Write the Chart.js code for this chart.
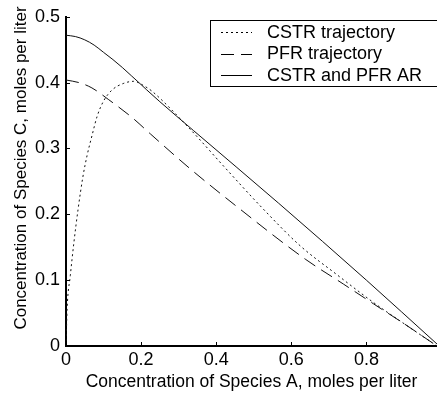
<!DOCTYPE html>
<html>
<head>
<meta charset="utf-8">
<script src="https://cdn.jsdelivr.net/npm/chart.js@4.4.1/dist/chart.umd.min.js"></script>
<style>
  html, body { margin: 0; padding: 0; background: #fff; }
  canvas { display: block; }
</style>
</head>
<body>
<canvas id="graph" width="437" height="396"></canvas>
<script>
// CSTR trajectory (dotted)
const cstrX = [0, 0.003, 0.0115, 0.021, 0.032, 0.045, 0.056, 0.069, 0.083, 0.100, 0.123, 0.154, 0.180, 0.211, 0.229, 0.331, 0.42, 0.522, 0.624, 0.72, 0.819, 0.90, 0.988];
const cstrY = [0, 0.057, 0.107, 0.157, 0.207, 0.257, 0.289, 0.319, 0.349, 0.372, 0.389, 0.399, 0.402, 0.394, 0.387, 0.329, 0.273, 0.210, 0.152, 0.109, 0.066, 0.034, 0];

// PFR trajectory (dashed)
const pfrX = [0, 0.035, 0.069, 0.114, 0.176, 0.225, 0.331, 0.45, 0.637, 0.739, 0.819, 0.90, 0.988];
const pfrY = [0.404, 0.400, 0.392, 0.374, 0.347, 0.322, 0.269, 0.214, 0.132, 0.094, 0.064, 0.034, 0];

// CSTR and PFR attainable region (solid)
const arX = [0, 0.025, 0.05, 0.075, 0.10, 0.125, 0.15, 0.175, 0.20, 0.215, 0.25, 0.34, 0.566, 0.80, 0.988];
const arY = [0.472, 0.470, 0.465, 0.457, 0.446, 0.435, 0.423, 0.410, 0.397, 0.389, 0.371, 0.327, 0.217, 0.100, 0.003];

const seriesNames = ['CSTR trajectory', 'PFR trajectory', 'CSTR and PFR AR'];
const xTitle = 'Concentration of Species A, moles per liter';
const yTitle = 'Concentration of Species C, moles per liter';
const xTicks = [0, 0.2, 0.4, 0.6, 0.8];
const yTicks = [0, 0.1, 0.2, 0.3, 0.4, 0.5];

const toPoints = (xs, ys) => xs.map((x, i) => ({ x: x, y: ys[i] }));
const fmt = v => (v === 0 ? '0' : v.toFixed(1));
const FONT = '"Liberation Sans", Arial, sans-serif';

Chart.defaults.font.family = FONT;
Chart.defaults.color = '#000';

// petits traits de graduation vers l'intérieur (style MATLAB)
const innerTicks = {
  id: 'innerTicks',
  afterDatasetsDraw(chart) {
    const { ctx, chartArea, scales: { x, y } } = chart;
    ctx.save();
    ctx.strokeStyle = '#000';
    ctx.lineWidth = 1;
    ctx.beginPath();
    x.ticks.forEach(t => {
      const px = Math.round(x.getPixelForValue(t.value)) + 0.5;
      ctx.moveTo(px, chartArea.bottom);
      ctx.lineTo(px, chartArea.bottom - 4);
    });
    y.ticks.forEach(t => {
      const py = Math.round(y.getPixelForValue(t.value)) + 0.5;
      ctx.moveTo(chartArea.left, py);
      ctx.lineTo(chartArea.left + 4, py);
    });
    ctx.stroke();
    ctx.restore();
  }
};

// titre vertical, un peu au-dessus du centre comme dans l'original
const yAxisTitle = {
  id: 'yAxisTitle',
  afterDraw(chart) {
    const ctx = chart.ctx;
    ctx.save();
    ctx.translate(21, 168);
    ctx.rotate(-Math.PI / 2);
    ctx.fillStyle = '#000';
    ctx.font = '17px ' + FONT;
    ctx.textAlign = 'center';
    ctx.textBaseline = 'middle';
    ctx.fillText(yTitle, 0, 0);
    ctx.restore();
  }
};

// légende encadrée dans la zone du graphique
const boxedLegend = {
  id: 'boxedLegend',
  afterDraw(chart) {
    const ctx = chart.ctx;
    ctx.save();
    ctx.fillStyle = '#fff';
    ctx.fillRect(210.5, 20.5, 240, 66);
    ctx.strokeStyle = '#000';
    ctx.lineWidth = 1;
    ctx.strokeRect(210.5, 20.5, 240, 66);
    chart.data.datasets.forEach((ds, i) => {
      const y = 32 + i * 21.5;
      ctx.setLineDash(ds.borderDash || []);
      ctx.beginPath();
      ctx.moveTo(221, Math.round(y) + 0.5);
      ctx.lineTo(252, Math.round(y) + 0.5);
      ctx.stroke();
      ctx.setLineDash([]);
      ctx.fillStyle = '#000';
      ctx.font = '18px ' + FONT;
      ctx.textBaseline = 'middle';
      ctx.fillText(ds.label, 267, y + 1);
    });
    ctx.restore();
  }
};

new Chart(document.getElementById('graph').getContext('2d'), {
  type: 'line',
  data: {
    datasets: [
      {
        label: seriesNames[0],
        data: toPoints(cstrX, cstrY),
        borderColor: '#111',
        borderWidth: 1,
        borderDash: [2, 3],
        pointRadius: 0,
        cubicInterpolationMode: 'monotone',
        fill: false
      },
      {
        label: seriesNames[1],
        data: toPoints(pfrX, pfrY),
        borderColor: '#111',
        borderWidth: 1,
        borderDash: [13, 7],
        pointRadius: 0,
        cubicInterpolationMode: 'monotone',
        fill: false
      },
      {
        label: seriesNames[2],
        data: toPoints(arX, arY),
        borderColor: '#111',
        borderWidth: 1,
        pointRadius: 0,
        cubicInterpolationMode: 'monotone',
        fill: false
      }
    ]
  },
  options: {
    responsive: false,
    animation: false,
    devicePixelRatio: 1,
    layout: { padding: { top: 13, right: 0, bottom: 0, left: 0 } },
    plugins: {
      legend: { display: false },
      tooltip: { enabled: false }
    },
    scales: {
      x: {
        type: 'linear',
        min: 0,
        max: 0.988,
        afterBuildTicks: s => { s.ticks = xTicks.map(v => ({ value: v })); },
        afterFit: s => { s.height = 50; },
        grid: { display: false, drawTicks: false },
        border: { display: true, color: '#000', width: 2 },
        ticks: { padding: 3, font: { size: 18 }, color: '#000', callback: v => fmt(v), maxRotation: 0 },
        title: {
          display: true,
          text: xTitle,
          font: { size: 17.5 },
          color: '#000',
          padding: { top: 0, bottom: 3 }
        }
      },
      y: {
        type: 'linear',
        min: 0,
        max: 0.5,
        afterBuildTicks: s => { s.ticks = yTicks.map(v => ({ value: v })); },
        afterFit: s => { s.width = 66; },
        grid: { display: false, drawTicks: false },
        border: { display: true, color: '#000', width: 2 },
        ticks: { padding: 6, font: { size: 18 }, color: '#000', callback: v => fmt(v) },
        title: { display: false }
      }
    }
  },
  plugins: [innerTicks, yAxisTitle, boxedLegend]
});
</script>
</body>
</html>
